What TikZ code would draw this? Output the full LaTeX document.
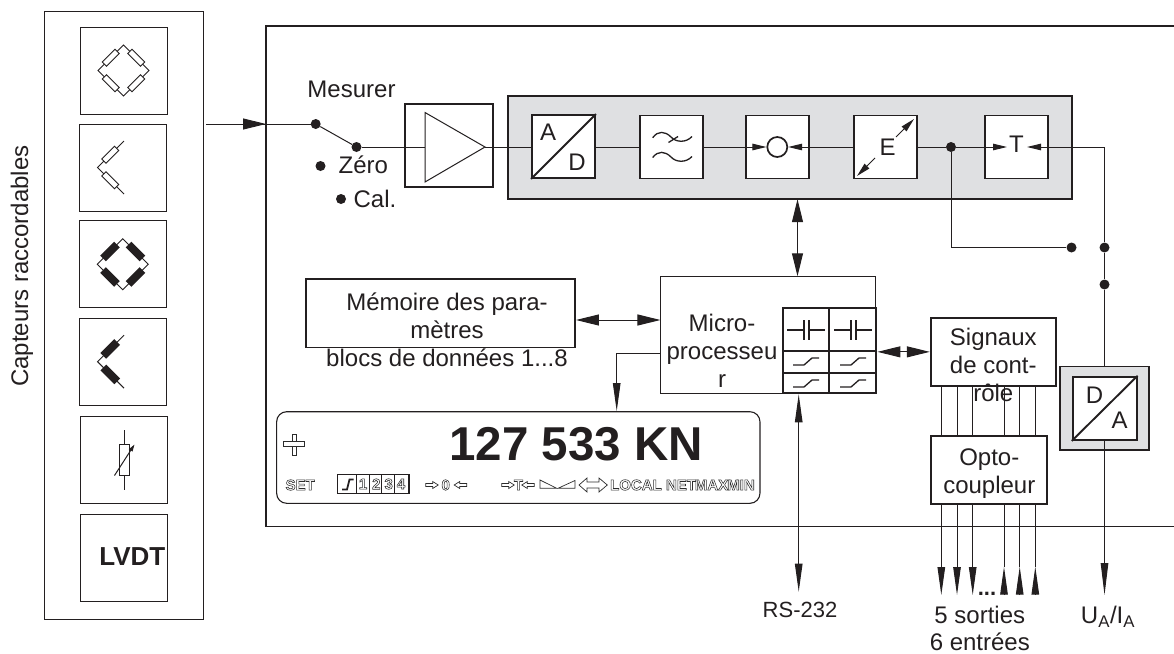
\documentclass[tikz,border=0pt]{standalone}
\usepackage{fontspec}
\setmainfont{Liberation Sans}
\usepackage{xcolor}
\usepackage{tikz}
\usetikzlibrary{arrows.meta}
\definecolor{ink}{HTML}{231F20}
\definecolor{panelgray}{HTML}{DFE0E2}
\definecolor{lcdgray}{HTML}{2C2C2C}
% hollow glyphs of the display
\newcommand{\lcdtext}[1]{\special{pdf:code 1 Tr 0.55 w}#1\special{pdf:code 0 Tr 1 w}}
\tikzset{
  pics/bridge/.style={code={
    \draw[thinln] (-25.5,0)--(0,-25.5)--(25.5,0)--(0,25.5)--cycle;
    \node[#1,rotate=45]  (ra) at (-12.75,-12.75) {};
    \node[#1,rotate=-45] (rb) at (12.75,-12.75) {};
    \node[#1,rotate=-45] (rc) at (-12.75,12.75) {};
    \node[#1,rotate=45]  (rd) at (12.75,12.75) {};
  }},
  pics/halfbridge/.style={code={
    \draw[thinln] (1,-26.5)--(-25.5,0)--(1,26.5);
    \node[#1,rotate=45]  (ra) at (-12.75,-12.75) {};
    \node[#1,rotate=-45] (rc) at (-12.75,12.75) {};
  }},
  pics/lcdarrow/.style={code={
    \draw[lcdgray,line width=0.7] (0,-1.5)--(7,-1.5)--(7,-3.5)--(12.5,0)--(7,3.5)--(7,1.5)--(0,1.5)--cycle;
  }},
}

\begin{document}
\begin{tikzpicture}[x=1pt,y=-1pt,line join=miter,
  thinln/.style={draw=ink,line width=1},
  rbox/.style={draw=ink,fill=white,line width=0.8,minimum width=18,minimum height=6,inner sep=0},
  rblack/.style={draw=ink,fill=ink,line width=1.6,minimum width=18,minimum height=6.5,inner sep=0},
  sbox/.style={draw=ink,line width=1,fill=white,minimum size=87,inner sep=0},
  blk/.style={draw=ink,line width=1.9,fill=white,minimum size=63,inner sep=0},
  txt/.style={font=\fontsize{24}{28}\selectfont,text=ink,align=center,inner sep=0},
  lcd/.style={font=\fontsize{15}{15}\selectfont\bfseries,text=lcdgray,inner sep=0},
  dot/.style={circle,fill=ink,inner sep=0,minimum size=10},
  arr/.style={draw=ink,line width=1,-{Stealth[inset=0pt,length=23pt,width=11pt]}},
  darr/.style={draw=ink,line width=1,{Stealth[inset=0pt,length=23pt,width=11pt]}-{Stealth[inset=0pt,length=23pt,width=11pt]}},
  tarr/.style={draw=ink,line width=1,-{Stealth[inset=0pt,length=28pt,width=7.5pt]}},
  tdarr/.style={draw=ink,line width=1,{Stealth[inset=0pt,length=28pt,width=7.5pt]}-{Stealth[inset=0pt,length=28pt,width=7.5pt]}},
  sarr/.style={draw=ink,line width=1,-{Stealth[inset=0pt,length=14pt,width=6.5pt]}},
]
  \useasboundingbox (0,0) rectangle (1174,653);

  %% Sensors
  \node[draw=ink,line width=1,minimum width=159,minimum height=608,inner sep=0] (sensors) at (123.75,315) {};
  \node[txt,rotate=90] (senstxt) at (22,266) {Capteurs raccordables};
  \node[sbox] (sa) at (123.5,70.5) {};
  \node[sbox] (sb) at (122.75,167.5) {};
  \node[sbox] (sc) at (122.75,264.25) {};
  \node[sbox] (sd) at (122.75,362) {};
  \node[sbox] (se) at (124.25,460) {};
  \node[sbox] (sf) at (124.25,557.75) {};
  \pic (pa) at (sa.center) {bridge=rbox};
  \pic (pb) at (123,167.5) {halfbridge=rbox};
  \pic (pc) at (sc.center) {bridge=rblack};
  \pic (pd) at (123,361.7) {halfbridge=rblack};
  % variable resistor
  \draw[thinln] (124.3,430)--(124.3,490);
  \node[rbox,minimum width=9.5,minimum height=30.5] (rvar) at (124.3,460) {};
  \draw[sarr,-{Stealth[inset=0pt,length=7pt,width=4pt]}] (114.5,475.5)--(134.5,444.5);
  \node[inner sep=0,font=\fontsize{26}{26}\selectfont\bfseries,text=ink] (lvdt) at (132.3,557) {LVDT};

  %% Main housing, open to the right
  \draw[draw=ink,line width=1.6] (1174,26)--(266,26)--(266,526.5)--(1174,526.5);
  \fill[panelgray,draw=ink,line width=2] (508,95.7) rectangle (1072,199);
  \node[minimum width=564,minimum height=103.3,inner sep=0] (panel) at (790,147.35) {};

  % input and switch
  \coordinate (inp) at (206,124);
  \node[dot] (swa) at (315.7,124) {};
  \node[dot] (swb) at (356.5,147) {};
  \node[dot] (swz) at (320.5,166) {};
  \node[dot] (swc) at (341,199) {};
  \draw[thinln] (inp)--(swa);
  \draw[arr] (inp)--(266,124);
  \draw[thinln] (swa)--(swb);
  \node[txt] (mes) at (351.5,89) {Mesurer};
  \node[txt] (zero) at (363.3,165) {Zéro};
  \node[txt] (cal) at (375,199) {Cal.};

  %% Chain of blocks
  \node[blk,minimum width=88.5,minimum height=83] (amp) at (448.8,145.5) {};
  \node[blk] (ad) at (563.5,146.5) {};
  \node[blk] (filt) at (671.6,147) {};
  \node[blk] (cmp) at (777.3,147) {};
  \node[blk] (scale) at (885.3,147) {};
  \node[blk] (tare) at (1016.7,147) {};
  \draw[thinln] (swb)--(amp.west |- swb);
  \coordinate (ampin) at (425,147);
  \coordinate (ampout) at (485,147);
  \draw[thinln] (amp.west |- swb)--(ampin);
  \draw[thinln] (425,112.5)--(425,182)--(ampout)--cycle;
  \draw[thinln] (ampout)--(ad.west |- ampout);
  \draw[thinln] (ad.east |- filt)--(filt.west);
  \draw[thinln] (filt.east)--(cmp.west);
  \draw[thinln] (cmp.east)--(scale.west);
  \node[dot] (tap) at (951,147) {};
  \draw[thinln] (scale.east)--(tap)--(tare.west);

  % A/D
  \draw[draw=ink,line width=1.9] (ad.south west)--(ad.north east);
  \node[txt] (adA) at (548,132) {A};
  \node[txt] (adD) at (577,162) {D};
  % filter
  \draw[draw=ink,line width=1.3] (652.7,137.7) .. controls (658,130.5) and (665,131) .. (671,137)
    .. controls (676,142.5) and (686,143) .. (692,136.5);
  \draw[draw=ink,line width=1.3] (668.5,142.5)--(678,136.5);
  \draw[draw=ink,line width=1.3] (652.7,157.5) .. controls (658,150.5) and (665,151) .. (671,157)
    .. controls (676,162.5) and (686,163) .. (692,156.5);
  % comparator
  \node[circle,draw=ink,line width=1.7,fill=white,minimum size=20,inner sep=0] (cmpc) at (777.3,147) {};
  \draw[sarr] (cmp.west)--(cmpc.west);
  \draw[sarr] (cmp.east)--(cmpc.east);
  % scaling
  \node[txt] (scE) at (887.5,147) {E};
  \draw[sarr] (875,158)--(857,176);
  \draw[sarr] (896,137)--(914,119);
  % tare
  \node[txt] (trT) at (1016.5,144) {T};
  \coordinate (trl) at (1007,147);
  \coordinate (trr) at (1027,147);
  \draw[sarr] (tare.west)--(trl);
  \draw[sarr] (tare.east)--(trr);

  %% Analog output
  \node[draw=ink,line width=1.4,fill=panelgray,minimum width=89,minimum height=83.7,inner sep=0] (daout) at (1104.5,408.2) {};
  \node[blk,minimum width=64,minimum height=63.3] (da) at (1104.7,408.3) {};
  \draw[draw=ink,line width=1.9] (da.south west)--(da.north east);
  \node[txt] (daD) at (1094.5,395) {D};
  \node[txt] (daA) at (1119.5,420) {A};
  \node[dot] (swt) at (1071.5,247.5) {};
  \node[dot] (swu) at (1104.5,247.5) {};
  \node[dot] (swv) at (1104.5,284.5) {};
  \draw[thinln] (tare.east)--(tare.east -| swu)--(swu)--(swv)--(daout.north -| swv);
  \draw[thinln] (tap)--(tap |- swt)--(swt);
  \coordinate (uout) at (1104.5,595);
  \draw[draw=ink,line width=1,-{Stealth[inset=0pt,length=32pt,width=7.5pt]}] (da.south -| uout)--(uout);
  \node[txt] (utxt) at (1108,617) {U\textsubscript{A}/I\textsubscript{A}};

  %% Microprocessor
  \node[draw=ink,line width=1,minimum width=214.7,minimum height=116.5,inner sep=0] (micro) at (768.3,335) {};
  \node[txt] (microtxt) at (722,351) {Micro-\\processeu\\r};
  \node[draw=ink,line width=1.9,minimum width=93.2,minimum height=85,inner sep=0] (relay) at (829.9,350.8) {};
  \draw[draw=ink,line width=1.9] (829.3,308.3)--(829.3,393.3);
  \draw[draw=ink,line width=1.9] (783.3,350.7)--(876.5,350.7);
  \draw[draw=ink,line width=1.9] (783.3,372.7)--(876.5,372.7);
  \foreach \dx in {0,47} {
    \begin{scope}[xshift=\dx]
      \draw[draw=ink,line width=1.3] (787,330)--(804,330) (809.3,330)--(825,330);
      \draw[draw=ink,line width=1.8] (804,320)--(804,340) (809.3,320)--(809.3,340);
      \foreach \dy in {0,22} {
        \draw[draw=ink,line width=1.3] (793,365+\dy)--(804,365+\dy)--(812,358+\dy)--(819,358+\dy);
      }
    \end{scope}
  }
  \coordinate (busc) at (797.5,240);
  \draw[darr] (panel.south -| busc)--(micro.north -| busc);
  \coordinate (rs) at (798.7,591.7);
  \draw[tdarr] (relay.south -| rs)--(rs);
  \node[txt,font=\fontsize{22}{28}\selectfont] (rstxt) at (800,610) {RS-232};

  %% Parameter memory
  \node[blk,minimum width=269,minimum height=68.5] (mem) at (440.5,313.25) {};
  \node[txt] (memtxt) at (447,329.5) {Mémoire des para-\\mètres\\blocs de données 1...8};
  \coordinate (memln) at (620,320);
  \draw[darr] (mem.east |- memln)--(micro.west |- memln);

  %% Control signals
  \node[blk,minimum width=125,minimum height=68.3] (sig) at (993.2,351.85) {};
  \node[blk,minimum width=116.3,minimum height=68.3] (opto) at (988.85,470.15) {};
  \foreach \x in {941.3,957,972.7,1004,1019.7,1035.3} {
    \draw[thinln] (sig.south -| \x,0)--(opto.north -| \x,0);
  }
  \node[txt] (sigtxt) at (993.3,365) {Signaux\\de cont-\\rôle};
  \node[txt] (optotxt) at (989.3,473.3) {Opto-\\coupleur};
  \draw[darr] (relay.east |- sig.west)--(sig.west);
  \foreach \x in {941.3,957,972.7} {
    \draw[tarr] (opto.south -| \x,0)--(\x,595);
  }
  \foreach \x in {1004,1019.7,1035.3} {
    \draw[thinln] (opto.south -| \x,0)--(\x,566.7);
    \draw[tarr] (\x,595)--(\x,566.7);
  }
  \node[inner sep=0,font=\fontsize{22}{22}\selectfont\bfseries,text=ink] (odots) at (987,594) {...};
  \node[txt,font=\fontsize{24}{27}\selectfont] (outtxt) at (979.8,628) {5 sorties\\6 entrées};

  %% Display
  \node[draw=ink,line width=1.1,rounded corners=10,minimum width=483.3,minimum height=91.6,inner sep=0] (disp) at (518.3,457.5) {};
  \coordinate (dispin) at (616.7,353.3);
  \draw[thinln] (micro.west |- dispin)--(dispin);
  \draw[tarr] (dispin)--(disp.north -| dispin);
  \node[inner sep=0,font=\fontsize{47.5}{47.5}\selectfont\bfseries,text=ink] (val) at (576,444) {127 533 KN};
  \draw[lcdgray,line width=0.8] (292,434) rectangle (296.5,455);
  \filldraw[fill=white,draw=lcdgray,line width=0.8] (283,441.7) rectangle (304.7,446.7);
  \node[lcd] (lset) at (300.2,485) {\lcdtext{SET}};
  % range indicator
  \draw[draw=ink,line width=1.5,fill=white] (337.3,474.3) rectangle (409,493.3);
  \draw[draw=ink,line width=1.8] (342,489.5)--(347,489.5)--(349.5,479.5)--(353.5,479.5);
  \foreach \x/\d in {356/1,369.3/2,381.7/3,394/4} {
    \draw[draw=ink,line width=0.9] (\x,474.3)--(\x,493.3);
    \node[lcd] (lr\d) at (\x+7,484) {\lcdtext{\d}};
  }
  \pic (ha) at (425.7,485) {lcdarrow};
  \node[lcd] (lzero) at (445.7,485) {\lcdtext{0}};
  \pic[xscale=-1] (hb) at (466.7,485) {lcdarrow};
  \pic (hc) at (501.7,485) {lcdarrow};
  \node[lcd] (ltare) at (518.5,485) {\lcdtext{T}};
  \pic[xscale=-1] (hd) at (534.3,485) {lcdarrow};
  \draw[lcdgray,line width=0.7] (540,480)--(540,488.3)--(556.7,488.3)--cycle;
  \draw[lcdgray,line width=0.7] (558,488.3)--(575,488.3)--(575,480.5)--cycle;
  \draw[lcdgray,line width=0.7] (579,485)--(587,478)--(587,482)--(599,482)--(599,478)--(607.3,485)--(599,492)--(599,488)--(587,488)--(587,492)--cycle;
  \node[lcd] (llocal) at (636,485) {\lcdtext{LOCAL}};
  \node[lcd] (lnet) at (681,485) {\lcdtext{NET}};
  \node[lcd] (lmax) at (711.5,485) {\lcdtext{MAX}};
  \node[lcd] (lmin) at (741,485) {\lcdtext{MIN}};
\end{tikzpicture}
\end{document}
